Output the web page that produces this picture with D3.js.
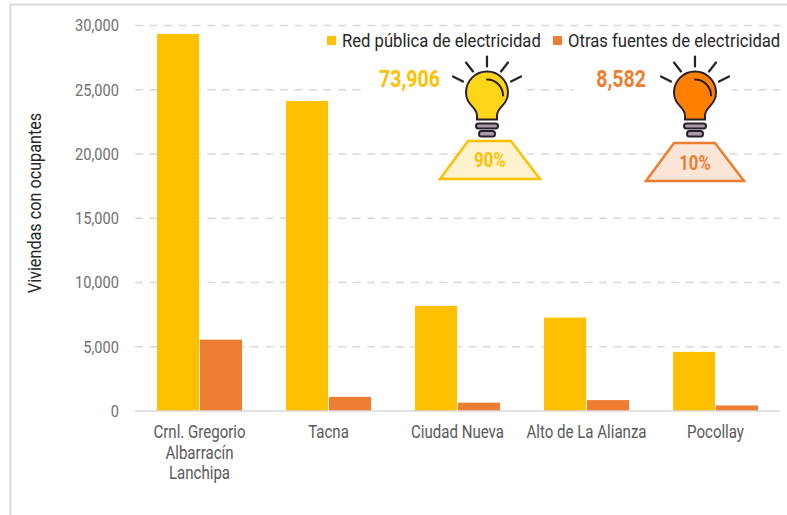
<!DOCTYPE html>
<html><head><meta charset="utf-8">
<script src="https://cdn.jsdelivr.net/npm/d3@7"></script>
<style>
html,body{margin:0;padding:0;background:#fff}
svg{display:block;font-family:Roboto,sans-serif}
</style></head><body><svg id="c" width="787" height="515"></svg>
<script>
const categories = ["Crnl. Gregorio Albarracín Lanchipa","Tacna","Ciudad Nueva","Alto de La Alianza","Pocollay"];
const categoryLines = [["Crnl. Gregorio","Albarracín","Lanchipa"],["Tacna"],["Ciudad Nueva"],["Alto de La Alianza"],["Pocollay"]];
const seriesNames = ["Red pública de electricidad","Otras fuentes de electricidad"];
const redPublica = [29340,24130,8180,7270,4600];
const otrasFuentes = [5550,1100,650,850,430];
const yTicks = [0,5000,10000,15000,20000,25000,30000];
const totals = ["73,906","8,582"];
const shares = ["90%","10%"];
const yellow="#FFC000", orange="#ED7D31";

const svg=d3.select("#c");
const condense=(sel,k)=>sel.each(function(){const l=this.getComputedTextLength();
  d3.select(this).attr("textLength",l*k).attr("lengthAdjust","spacingAndGlyphs");});

svg.append("path").attr("d","M10.5,515V4.5H787").attr("fill","none").attr("stroke","#d9d9d9").attr("stroke-width",2);

const x=d3.scaleBand().domain(categories).range([135,780]).paddingInner(0).paddingOuter(0);
const y=d3.scaleLinear().domain([0,30000]).range([411,25.5]);
const inner=d3.scaleBand().domain([0,1]).range([22,x.bandwidth()-22]).paddingInner(0.02);

// gridlines
svg.append("g").selectAll("line").data(yTicks.filter(d=>d>0)).join("line")
  .attr("x1",135).attr("x2",780).attr("y1",d=>y(d)).attr("y2",d=>y(d))
  .attr("stroke","#d9d9d9").attr("stroke-width",1.6).attr("stroke-dasharray","8 6.5");
// masks behind bulb graphics
svg.append("rect").attr("x",365).attr("y",68).attr("width",162).attr("height",32).attr("fill","#fff");
svg.append("rect").attr("x",573).attr("y",68).attr("width",159).attr("height",32).attr("fill","#fff");

// bars
const g=svg.append("g");
[redPublica,otrasFuentes].forEach((vals,i)=>{
  g.append("g").selectAll("rect").data(vals).join("rect")
   .attr("x",(d,j)=>x(categories[j])+inner(i)).attr("width",inner.bandwidth())
   .attr("y",d=>y(d)).attr("height",d=>y(0)-y(d)).attr("fill",i?orange:yellow);
});
// baseline
svg.append("line").attr("x1",135).attr("x2",780).attr("y1",y(0)).attr("y2",y(0)).attr("stroke","#d9d9d9").attr("stroke-width",1.6);

// y axis
const ya=svg.append("g").attr("transform","translate(119,0)")
  .call(d3.axisLeft(y).tickValues(yTicks).tickFormat(d3.format(",")).tickSize(0).tickPadding(0));
ya.select(".domain").remove();
ya.selectAll("text").attr("font-size",17).attr("font-family","Roboto").attr("fill","#6f6f6f").call(condense,0.86);

// x axis labels
const xa=svg.append("g").selectAll("text").data(categories).join("text")
  .attr("text-anchor","middle").attr("font-size",17.5).attr("fill","#595959");
xa.each(function(c,i){
  const t=d3.select(this);
  categoryLines[i].forEach((s,k)=>t.append("tspan").attr("x",x(c)+x.bandwidth()/2).attr("y",438+k*20.5).text(s));
});
xa.selectAll("tspan").each(function(){
  const l=this.getComputedTextLength();
  d3.select(this).attr("textLength",l*0.86).attr("lengthAdjust","spacingAndGlyphs");
});

// y title
svg.append("text").attr("transform","translate(41,203) rotate(-90)").attr("text-anchor","middle")
  .attr("font-size",18).attr("fill","#262626").text("Viviendas con ocupantes").call(condense,0.9);

// legend
[[327,342],[553,568]].forEach((p,i)=>{
  svg.append("rect").attr("x",p[0]).attr("y",36).attr("width",9).attr("height",9).attr("fill",i?orange:yellow);
  svg.append("text").attr("transform",`translate(${p[1]},46.5) scale(0.9,1)`).attr("font-size",18.5).attr("fill","#262626")
    .text(seriesNames[i]);
});

// bulbs
function bulb(cx,cy,fill){
  const b=svg.append("g").attr("transform",`translate(${cx},${cy})`);
  const ink="#2a1f2d";
  b.append("path").attr("d","M-10,26 L-10,22 C-10,13 -21,12 -21,-1 A21,21 0 0 1 21,-1 C21,12 10,13 10,22 L10,26 Z")
    .attr("fill",fill).attr("stroke",ink).attr("stroke-width",2);
  b.append("path").attr("d","M0,-14 A16,16 0 0 1 16,2").attr("fill","none").attr("stroke",ink).attr("stroke-width",2).attr("stroke-linecap","round");
  [[-11,30,22,5],[-8,37.5,16,5.5]].forEach(r=>
    b.append("rect").attr("x",r[0]).attr("y",r[1]).attr("width",r[2]).attr("height",r[3]).attr("rx",2.5)
     .attr("fill","#a99aa5").attr("stroke",ink).attr("stroke-width",2));
  [[0,-37,0,-27],[-21,-31,-14,-22],[21,-31,14,-22],[-34,-17,-24,-12],[34,-17,24,-12]].forEach(r=>
    b.append("line").attr("x1",r[0]).attr("y1",r[1]).attr("x2",r[2]).attr("y2",r[3])
     .attr("stroke",ink).attr("stroke-width",2.2).attr("stroke-linecap","round"));
}
bulb(487,93.5,"#FFD517");
bulb(695,93.5,"#FF8000");

// trapezoids
svg.append("path").attr("d","M468,141H511L540,179H440Z").attr("fill","#FFF2CC").attr("stroke",yellow).attr("stroke-width",2.5);
svg.append("path").attr("d","M674,143H715L744,181H646Z").attr("fill","#FBE5D6").attr("stroke",orange).attr("stroke-width",2.5);

// totals and shares
[[440,86.5,yellow],[646,86.5,orange]].forEach((p,i)=>{
  svg.append("text").attr("x",p[0]).attr("y",p[1]).attr("text-anchor","end").attr("font-size",23).attr("font-weight",700)
    .attr("fill",p[2]).text(totals[i]).call(condense,0.85);
});
[[490,167,yellow],[695,169.5,orange]].forEach((p,i)=>{
  svg.append("text").attr("x",p[0]).attr("y",p[1]).attr("text-anchor","middle").attr("font-size",19.5).attr("font-weight",700)
    .attr("fill",p[2]).text(shares[i]).call(condense,0.85);
});
</script></body></html>
